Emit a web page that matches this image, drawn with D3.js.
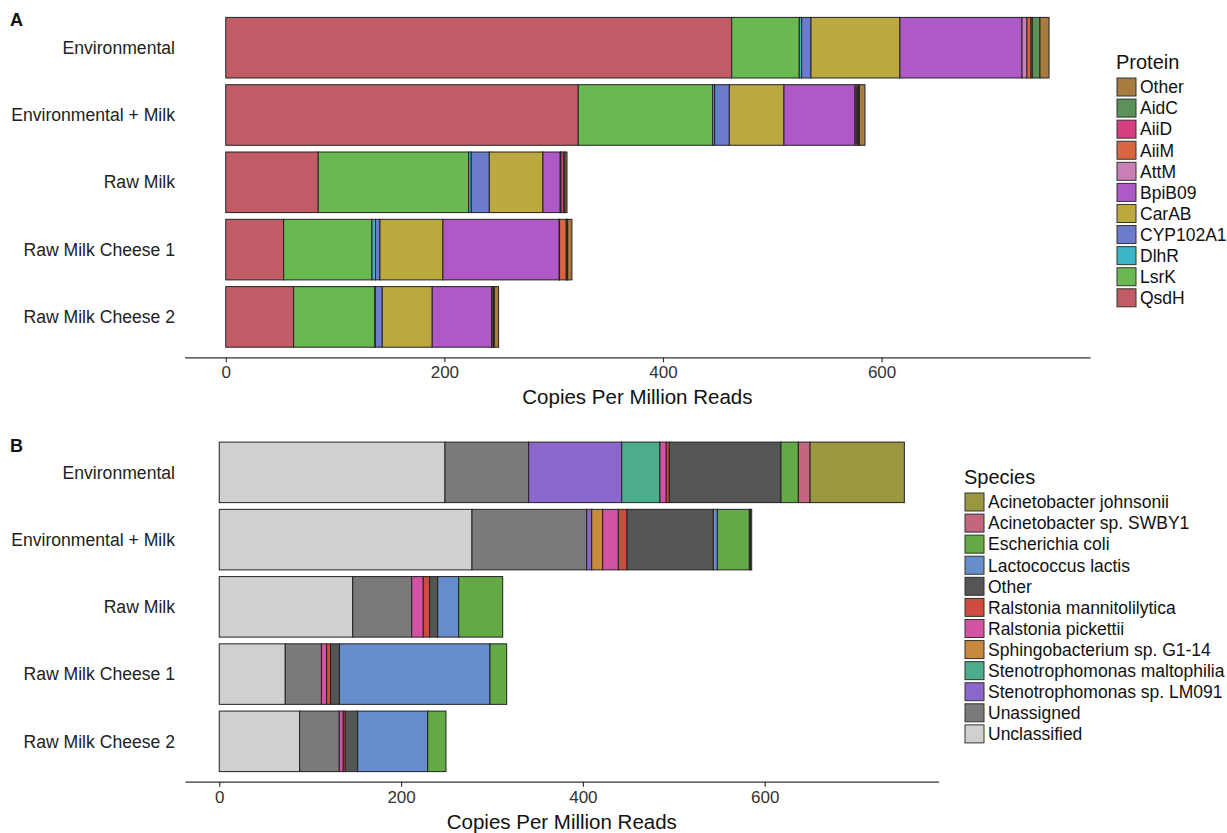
<!DOCTYPE html>
<html>
<head>
<meta charset="utf-8">
<script src="https://cdn.jsdelivr.net/npm/d3@7"></script>
<style>
  html, body { margin: 0; padding: 0; background: #fff; }
  svg { display: block; font-family: "Liberation Sans", Arial, sans-serif; }
</style>
</head>
<body>
<svg id="chart" width="1227" height="833"></svg>
<script>
// Sample groups shared by both panels
const categories = ["Environmental", "Environmental + Milk", "Raw Milk", "Raw Milk Cheese 1", "Raw Milk Cheese 2"];

// Panel A: quorum-quenching proteins, stacked left to right in this order
const proteins = ["QsdH", "LsrK", "DlhR", "CYP102A1", "CarAB", "BpiB09", "AttM", "AiiM", "AiiD", "AidC", "Other"];
const proteinColors = ["#c15c67", "#67b950", "#3cb5c8", "#6c7bcb", "#bba93f", "#ae59c5", "#c97eb6", "#d86640", "#d63f80", "#5a925a", "#a87b3f"];
// copies per million reads, one row per category, one column per protein
const QsdH     = [462.9, 322.5,  84.6,  53.0,  62.1];
const LsrK     = [ 61.8, 123.0, 137.6,  80.8,  74.4];
const DlhR     = [  2.2,   1.8,   2.4,   3.2,   0.3];
const CYP102A1 = [  8.5,  13.4,  16.5,   4.1,   6.4];
const CarAB    = [ 81.4,  50.0,  49.1,  57.6,  45.7];
const BpiB09   = [111.7,  65.0,  15.8, 106.4,  54.4];
const AttM     = [  4.5,   1.0,   0.3,   0.3,   0.2];
const AiiM     = [  3.7,   1.0,   0.3,   6.1,   1.2];
const AiiD     = [  1.2,   1.0,   2.8,   0.4,   0.4];
const AidC     = [  7.0,   0.9,   1.0,   0.9,   0.6];
const OtherA   = [  8.3,   5.2,   1.8,   3.9,   3.9];
const proteinValues = [QsdH, LsrK, DlhR, CYP102A1, CarAB, BpiB09, AttM, AiiM, AiiD, AidC, OtherA];

// Panel B: species of origin, stacked left to right in this order
const species = ["Unclassified", "Unassigned", "Stenotrophomonas sp. LM091", "Stenotrophomonas maltophilia",
  "Sphingobacterium sp. G1-14", "Ralstonia pickettii", "Ralstonia mannitolilytica", "Other",
  "Lactococcus lactis", "Escherichia coli", "Acinetobacter sp. SWBY1", "Acinetobacter johnsonii"];
const speciesColors = ["#d0d0d0", "#7a7a7a", "#8c67cb", "#4bad8a", "#c8893f", "#d253a3", "#cf4b3f", "#555555",
  "#678ecc", "#63aa47", "#c2677e", "#9a9740"];
const Unclassified   = [248.3, 278.0, 146.8,  72.6,  88.4];
const Unassigned     = [ 92.1, 126.2,  64.9,  39.8,  43.6];
const StenoLM091     = [102.3,   5.5,   0.0,   0.0,   0.0];
const StenoMalto     = [ 42.1,   0.0,   0.0,   0.0,   0.0];
const Sphingo        = [  0.0,  12.1,   0.0,   0.0,   0.0];
const RalsPickettii  = [  6.9,  17.2,  12.7,   5.7,   4.4];
const RalsMannito    = [  3.3,   9.5,   7.1,   4.4,   2.2];
const OtherB         = [122.9,  95.0,   8.8,   9.7,  13.7];
const LactoLactis    = [  0.0,   4.4,  23.1, 165.6,  77.0];
const EColi          = [ 19.1,  35.2,  48.4,  18.4,  20.1];
const AcinetoSWBY1   = [ 12.9,   1.2,   0.0,   0.0,   0.0];
const AcinetoJohns   = [103.7,   1.4,   0.0,   0.0,   0.0];
const speciesValues = [Unclassified, Unassigned, StenoLM091, StenoMalto, Sphingo, RalsPickettii, RalsMannito,
  OtherB, LactoLactis, EColi, AcinetoSWBY1, AcinetoJohns];

const xTicks = [0, 200, 400, 600];
const axisTitle = "Copies Per Million Reads";

const svg = d3.select("#chart");

function panel(opts) {
  const { keys, colors, values, left, right, top, axisY, letter, letterY, legendTitle, legendX, legendY } = opts;

  // stacked rows built from the per-key arrays
  const rows = categories.map((c, i) => {
    const r = { category: c };
    keys.forEach((k, j) => { r[k] = values[j][i]; });
    return r;
  });
  const stacked = d3.stack().keys(keys)(rows);
  const maxTotal = d3.max(rows, r => d3.sum(keys, k => r[k]));

  // continuous scale with 5% padding on both ends
  const x = d3.scaleLinear().domain([-0.05 * maxTotal, 1.05 * maxTotal]).range([left, right]);
  // discrete positions 1..n with 0.6 padding on each side
  const yPos = d3.scaleLinear().domain([0.4, categories.length + 0.6]).range([top, axisY]);
  const step = yPos(2) - yPos(1);
  const barH = step * 0.9;
  const yCenter = c => yPos(categories.indexOf(c) + 1);

  const g = svg.append("g");

  stacked.forEach((layer, j) => {
    g.append("g")
      .attr("fill", colors[j])
      .selectAll("rect")
      .data(layer.filter(d => d[1] - d[0] > 0))
      .join("rect")
      .attr("x", d => x(d[0]))
      .attr("width", d => x(d[1]) - x(d[0]))
      .attr("y", d => yCenter(d.data.category) - barH / 2)
      .attr("height", barH)
      .attr("stroke", "#222")
      .attr("stroke-width", 1);
  });

  // category labels
  g.append("g").selectAll("text")
    .data(categories)
    .join("text")
    .attr("x", 175)
    .attr("y", c => yCenter(c))
    .attr("dy", "0.35em")
    .attr("text-anchor", "end")
    .attr("font-size", 17.6)
    .attr("fill", "#222")
    .text(c => c);

  // bottom axis
  const axis = g.append("g")
    .attr("transform", `translate(0,${axisY})`)
    .call(d3.axisBottom(x).tickValues(xTicks).tickSizeInner(5).tickSizeOuter(0).tickPadding(4));
  axis.select(".domain").attr("stroke", "#333").attr("stroke-width", 1.3);
  axis.selectAll(".tick line").attr("stroke", "#333").attr("stroke-width", 1.2);
  axis.selectAll(".tick text")
    .attr("font-size", 17)
    .attr("fill", "#333")
    .attr("font-family", "\"Liberation Sans\", Arial, sans-serif");

  g.append("text")
    .attr("x", (left + right) / 2)
    .attr("y", axisY + 47)
    .attr("text-anchor", "middle")
    .attr("font-size", 20.5)
    .attr("fill", "#111")
    .text(axisTitle);

  // panel letter
  g.append("text")
    .attr("x", 10)
    .attr("y", letterY)
    .attr("font-size", 18)
    .attr("font-weight", "bold")
    .attr("fill", "#111")
    .text(letter);

  // legend, listed in reverse stacking order
  const lg = g.append("g").attr("transform", `translate(${legendX},${legendY})`);
  lg.append("text")
    .attr("x", 0)
    .attr("y", 0)
    .attr("font-size", 20)
    .attr("fill", "#111")
    .text(legendTitle);
  const items = keys.map((k, j) => ({ k, c: colors[j] })).reverse();
  const item = lg.selectAll("g.item")
    .data(items)
    .join("g")
    .attr("class", "item")
    .attr("transform", (d, i) => `translate(0,${9 + i * 21.08})`);
  item.append("rect")
    .attr("x", 1)
    .attr("y", 0)
    .attr("width", 19)
    .attr("height", 18)
    .attr("fill", d => d.c)
    .attr("stroke", "#333")
    .attr("stroke-width", 1);
  item.append("text")
    .attr("x", 24)
    .attr("y", 9)
    .attr("dy", "0.36em")
    .attr("font-size", 17.5)
    .attr("fill", "#111")
    .text(d => d.k);
}

panel({
  keys: proteins, colors: proteinColors, values: proteinValues,
  left: 184.6, right: 1090.2, top: 7.3, axisY: 357.3,
  letter: "A", letterY: 26,
  legendTitle: "Protein", legendX: 1116, legendY: 69
});

panel({
  keys: species, colors: speciesColors, values: speciesValues,
  left: 185.0, right: 938.6, top: 432.0, axisY: 781.7,
  letter: "B", letterY: 452,
  legendTitle: "Species", legendX: 964, legendY: 484
});
</script>
</body>
</html>
